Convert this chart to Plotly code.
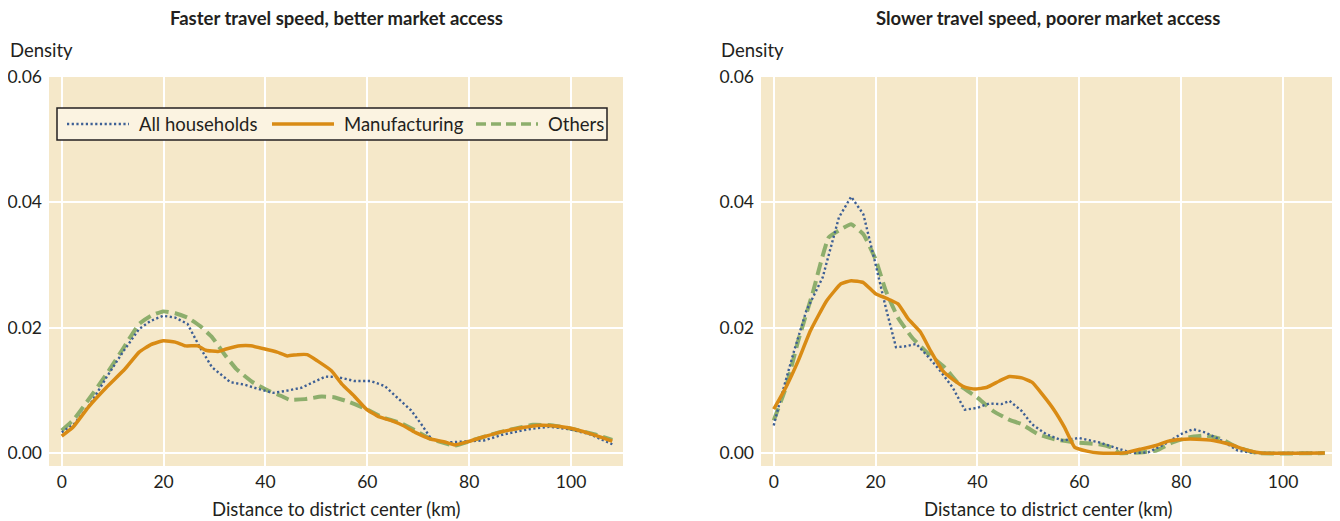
import plotly.graph_objects as go

# ---------------- data ----------------
# Left panel: Faster travel speed, better market access
fast_all_x = [0, 2.4, 5.6, 8.8, 12.0, 15.2, 17.5, 19.9, 22.3, 24.7, 27.1, 29.5, 33.1, 35.9, 38.7, 41.5, 43.9,
              47.0, 49.4, 51.8, 54.3, 57.4, 60.6, 63.4, 65.8, 68.6, 70.6, 72.6, 75.8, 79.7, 82.9, 86.9,
              91.7, 95.7, 99.7, 103.7, 108.1]
fast_all_y = [0.0033, 0.0046, 0.0078, 0.0121, 0.0161, 0.0198, 0.0211, 0.0219, 0.0216, 0.0206, 0.0169, 0.0137,
              0.0113, 0.0109, 0.0102, 0.0096, 0.0099, 0.0104, 0.0113, 0.0122, 0.0121, 0.0115, 0.0115, 0.0107,
              0.0089, 0.0068, 0.0046, 0.0022, 0.0017, 0.0019, 0.0020, 0.0030, 0.0038, 0.0042, 0.0038, 0.0030,
              0.0014]

fast_mfg_x = [0, 2.2, 5.2, 8.8, 12.4, 15.2, 17.5, 19.9, 22.3, 24.3, 26.7, 28.3, 30.7, 32.3, 35.1, 37.1, 39.9,
              42.3, 44.3, 46.3, 48.2, 50.2, 53.0, 55.0, 57.4, 59.8, 62.2, 64.6, 67.0, 69.4, 72.6, 75.0, 77.2,
              79.7, 82.9, 86.9, 90.9, 93.3, 95.7, 99.7, 103.7, 108.1]
fast_mfg_y = [0.0027, 0.0041, 0.0073, 0.0105, 0.0134, 0.0161, 0.0173, 0.0179, 0.0177, 0.0171, 0.0171, 0.0164,
              0.0162, 0.0166, 0.0171, 0.0171, 0.0166, 0.0161, 0.0155, 0.0157, 0.0157, 0.0147, 0.0131, 0.0110,
              0.0091, 0.0070, 0.0058, 0.0052, 0.0044, 0.0033, 0.0022, 0.0018, 0.0013, 0.0018, 0.0026, 0.0035,
              0.0041, 0.0044, 0.0044, 0.0040, 0.0031, 0.0019]

fast_oth_x = [0, 2.4, 5.6, 8.8, 12.0, 15.2, 17.5, 19.9, 22.3, 24.7, 27.1, 29.5, 31.9, 34.3, 37.5, 40.7, 43.1,
              44.7, 47.8, 51.0, 53.4, 56.6, 59.8, 63.0, 66.2, 69.4, 72.6, 77.2, 80.5, 84.5, 88.5, 92.5, 96.5,
              100.5, 104.5, 108.1]
fast_oth_y = [0.0036, 0.0054, 0.0089, 0.0126, 0.0166, 0.0206, 0.0219, 0.0226, 0.0223, 0.0216, 0.0203, 0.0185,
              0.0158, 0.0134, 0.0113, 0.0099, 0.0091, 0.0085, 0.0086, 0.0090, 0.0089, 0.0081, 0.0070, 0.0057,
              0.0049, 0.0036, 0.0022, 0.0012, 0.0020, 0.0030, 0.0038, 0.0045, 0.0044, 0.0038, 0.0030, 0.0021]

# Right panel: Slower travel speed, poorer market access
slow_all_x = [0, 1.6, 4.0, 6.4, 9.6, 12.8, 15.2, 17.6, 20.0, 22.0, 24.0, 25.6, 28.0, 30.4, 32.7, 35.1, 37.5,
              39.9, 42.3, 44.7, 46.3, 48.7, 50.7, 53.5, 56.7, 59.9, 63.9, 67.1, 70.3, 73.5, 76.7, 79.9, 82.3,
              84.7, 87.9, 91.1, 94.2, 108.2]
slow_all_y = [0.0044, 0.0094, 0.0163, 0.0227, 0.0280, 0.0376, 0.0409, 0.0381, 0.0301, 0.0232, 0.0169, 0.0170,
              0.0174, 0.0153, 0.0131, 0.0105, 0.0069, 0.0072, 0.0079, 0.0078, 0.0083, 0.0067, 0.0046, 0.0030,
              0.0020, 0.0024, 0.0017, 0.0009, 0.0000, 0.0001, 0.0014, 0.0030, 0.0038, 0.0033, 0.0020, 0.0004,
              0.0000, 0.0000]

slow_mfg_x = [0, 2.4, 4.8, 7.2, 10.4, 13.2, 15.2, 17.6, 20.0, 22.4, 24.4, 26.4, 28.8, 30.8, 33.2, 35.1, 37.5,
              39.5, 41.9, 44.3, 46.3, 48.7, 50.7, 52.7, 55.1, 57.1, 59.1, 61.5, 63.9, 68.7, 71.9, 75.1, 77.5,
              80.7, 83.1, 86.3, 89.5, 92.7, 95.8, 108.2]
slow_mfg_y = [0.0070, 0.0105, 0.0147, 0.0195, 0.0243, 0.0270, 0.0275, 0.0272, 0.0254, 0.0246, 0.0238, 0.0214,
              0.0193, 0.0163, 0.0131, 0.0118, 0.0105, 0.0102, 0.0105, 0.0115, 0.0122, 0.0120, 0.0113, 0.0094,
              0.0068, 0.0041, 0.0009, 0.0003, 0.0000, 0.0000, 0.0006, 0.0012, 0.0019, 0.0022, 0.0022, 0.0020,
              0.0014, 0.0005, 0.0000, 0.0000]

slow_oth_x = [0, 2.4, 4.8, 7.6, 10.8, 13.2, 15.2, 17.6, 20.0, 22.0, 24.4, 27.2, 30.4, 33.5, 36.7, 39.9, 43.1,
              46.3, 48.7, 51.9, 55.1, 59.1, 63.9, 66.3, 67.9, 71.9, 75.1, 78.3, 81.5, 84.7, 87.9, 91.1, 95.0,
              108.2]
slow_oth_y = [0.0052, 0.0105, 0.0179, 0.0254, 0.0344, 0.0357, 0.0365, 0.0349, 0.0309, 0.0259, 0.0216, 0.0184,
              0.0158, 0.0137, 0.0107, 0.0089, 0.0067, 0.0053, 0.0046, 0.0030, 0.0022, 0.0017, 0.0014, 0.0009,
              0.0000, 0.0001, 0.0004, 0.0017, 0.0025, 0.0028, 0.0022, 0.0009, 0.0000, 0.0000]

panel_titles = ["Faster travel speed, better market access", "Slower travel speed, poorer market access"]
series_names = ["All households", "Manufacturing", "Others"]
x_ticks = [0, 20, 40, 60, 80, 100]
y_ticks = [0.00, 0.02, 0.04, 0.06]
y_label = "Density"
x_label = "Distance to district center (km)"

# ---------------- style ----------------
FONT = "Lato, Roboto, Liberation Sans, sans-serif"
TXT = "#231F20"
BG = "#F5E8C9"
LEG_BG = "#FBF3E1"
C_ALL = "#3D5F95"
C_MFG = "#D98B14"
C_OTH = "#8DAE6C"
W, H = 1340, 521
OFF = 8  # page body margin: the figure is drawn 8px right/down in the browser

DASH_ALL = "2.2px,2.5px"
DASH_OTH = "13px,6px"

fig = go.Figure()

panels = [
    (fast_all_x, fast_all_y, fast_mfg_x, fast_mfg_y, fast_oth_x, fast_oth_y, "x", "y"),
    (slow_all_x, slow_all_y, slow_mfg_x, slow_mfg_y, slow_oth_x, slow_oth_y, "x2", "y2"),
]
for ax_, ay_, mx, my, ox, oy, xa, ya in panels:
    fig.add_trace(go.Scatter(x=ox, y=oy, name=series_names[2], mode="lines", xaxis=xa, yaxis=ya,
                             line=dict(color=C_OTH, width=4, dash=DASH_OTH, shape="spline", smoothing=0.4),
                             showlegend=False))
    fig.add_trace(go.Scatter(x=ax_, y=ay_, name=series_names[0], mode="lines", xaxis=xa, yaxis=ya,
                             line=dict(color=C_ALL, width=2.4, dash=DASH_ALL),
                             showlegend=False))
    fig.add_trace(go.Scatter(x=mx, y=my, name=series_names[1], mode="lines", xaxis=xa, yaxis=ya,
                             line=dict(color=C_MFG, width=3.5, shape="spline", smoothing=0.4),
                             showlegend=False))


def px_x(v):
    return (v - OFF) / W


def px_y(v):
    return 1 - (v - OFF) / H


xdom1 = [px_x(49), px_x(623)]
xdom2 = [px_x(761), px_x(1335)]
ydom = [px_y(466), px_y(77)]

axis_x = dict(range=[-2.5, 110.2], tickvals=x_ticks, ticktext=[str(v) for v in x_ticks],
              showgrid=True, gridcolor="white", gridwidth=2, zeroline=False, showline=False,
              automargin=False, ticks="", tickfont=dict(family=FONT, size=17.5, color=TXT),
              ticklabelstandoff=3)
axis_y = dict(range=[-0.00207, 0.06], tickvals=y_ticks, tickformat=".2f",
              showgrid=True, gridcolor="white", gridwidth=2, zeroline=False, showline=False,
              automargin=False, ticks="", tickfont=dict(family=FONT, size=17.5, color=TXT),
              ticklabelstandoff=6)

fig.update_layout(
    width=W, height=H,
    margin=dict(l=0, r=0, t=0, b=0, autoexpand=False),
    paper_bgcolor="white", plot_bgcolor=BG,
    xaxis=dict(domain=xdom1, anchor="y", **axis_x),
    yaxis=dict(domain=ydom, anchor="x", **axis_y),
    xaxis2=dict(domain=xdom2, anchor="y2", **axis_x),
    yaxis2=dict(domain=ydom, anchor="x2", **axis_y),
    showlegend=False,
    font=dict(family=FONT, color=TXT),
)

annotations = []
shapes = []
for i, (dom, t) in enumerate(zip([xdom1, xdom2], panel_titles)):
    cx = (dom[0] + dom[1]) / 2
    annotations.append(dict(text="<b>" + t + "</b>", x=cx, y=px_y(18), xref="paper", yref="paper",
                            xanchor="center", yanchor="middle", showarrow=False,
                            font=dict(family=FONT, size=18.5, color=TXT)))
    annotations.append(dict(text=x_label, x=cx, y=px_y(509), xref="paper", yref="paper",
                            xanchor="center", yanchor="middle", showarrow=False,
                            font=dict(family=FONT, size=18.5, color=TXT)))
    annotations.append(dict(text=y_label, x=px_x(8 if i == 0 else 719), y=px_y(50), xref="paper",
                            yref="paper", xanchor="left", yanchor="middle", showarrow=False,
                            font=dict(family=FONT, size=18.5, color=TXT)))

# legend (left panel only)
shapes.append(dict(type="rect", xref="paper", yref="paper", x0=px_x(57), x1=px_x(607),
                   y0=px_y(140), y1=px_y(108), fillcolor=LEG_BG, line=dict(color=TXT, width=1.5),
                   layer="above"))
leg_y = px_y(124)
leg_items = [
    (series_names[0], C_ALL, 2.4, DASH_ALL, 67),
    (series_names[1], C_MFG, 3.5, "solid", 272),
    (series_names[2], C_OTH, 3.5, "10px,5px", 476),
]
for name, col, wd, dsh, x0 in leg_items:
    shapes.append(dict(type="line", xref="paper", yref="paper", x0=px_x(x0), x1=px_x(x0 + 62),
                       y0=leg_y, y1=leg_y, line=dict(color=col, width=wd, dash=dsh), layer="above"))
    annotations.append(dict(text=name, x=px_x(x0 + 70), y=leg_y, xref="paper", yref="paper",
                            xanchor="left", yanchor="middle", showarrow=False,
                            font=dict(family=FONT, size=18.5, color=TXT)))

fig.update_layout(annotations=annotations, shapes=shapes)

fig.write_html("out.html")
